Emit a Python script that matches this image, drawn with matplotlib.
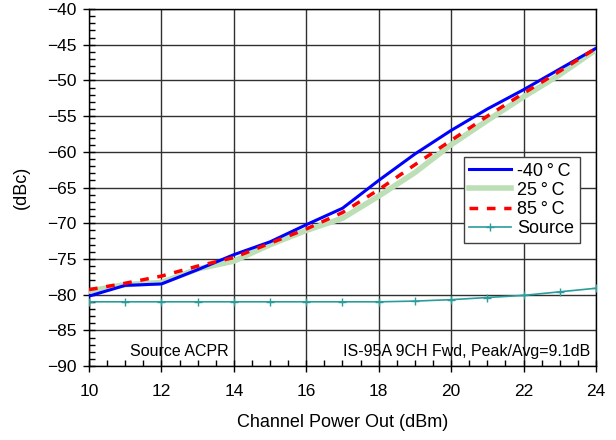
import matplotlib
matplotlib.use('Agg')
from matplotlib import pyplot as plt
from matplotlib.ticker import MultipleLocator

plt.rcParams['font.family'] = ['Liberation Sans', 'DejaVu Sans']

# channel power out (dBm)
pout = [10, 11, 12, 13, 14, 15, 16, 17, 18, 19, 20, 21, 22, 23, 24]

# ACPR (dBc) per temperature
acpr_m40 = [-80.2, -78.7, -78.5, -76.5, -74.4, -72.6, -70.2, -67.9, -64.0, -60.3, -57.0, -54.0, -51.3, -48.4, -45.5]
acpr_25 = [-79.5, -78.6, -78.3, -76.4, -75.3, -73.0, -71.0, -69.3, -66.2, -62.9, -59.0, -55.6, -52.3, -49.2, -45.7]
acpr_85 = [-79.3, -78.4, -77.4, -76.0, -74.8, -72.8, -70.8, -68.5, -65.3, -61.8, -58.4, -55.0, -51.8, -48.7, -45.5]
acpr_src = [-81.0, -81.0, -81.0, -81.0, -81.0, -81.0, -81.0, -81.0, -81.0, -80.9, -80.7, -80.4, -80.1, -79.6, -79.1]

fig = plt.figure(figsize=(6.16, 4.4), dpi=100)
ax = fig.add_axes([0.1445, 0.168, 0.823, 0.8115])

ax.plot(pout, acpr_m40, color='#0000ff', lw=2.2, label='-40\u2009\u00b0\u2009C', zorder=4)
ax.plot(pout, acpr_25, color='#bcdfb6', lw=4, label='25\u2009\u00b0\u2009C', zorder=3)
ax.plot(pout, acpr_85, color='#ff0000', lw=2.5, ls=(0, (2.5, 2.5)), label='85\u2009\u00b0\u2009C', zorder=5)
ax.plot(pout, acpr_src, color='#2a9d9a', lw=1.2, marker='+', ms=6, mew=1, label='Source', zorder=3)

ax.set_xlim(10, 24)
ax.set_ylim(-90, -40)
ax.xaxis.set_major_locator(MultipleLocator(2))
ax.xaxis.set_minor_locator(MultipleLocator(0.5))
ax.yaxis.set_major_locator(MultipleLocator(5))
ax.yaxis.set_minor_locator(MultipleLocator(1))
ax.tick_params(which='major', direction='inout', length=8, width=1, labelsize=12.5)
ax.tick_params(which='minor', direction='in', length=4, width=1)
ax.tick_params(axis='x', pad=9)
ax.tick_params(axis='y', pad=5)

ax.grid(which='major', color='#303030', lw=1)
for s in ax.spines.values():
    s.set_linewidth(1)

ax.set_xlabel('Channel Power Out (dBm)', fontsize=13, labelpad=11)
ax.set_ylabel('(dBc)', fontsize=13, labelpad=12)

ax.text(12.5, -88, 'Source ACPR', ha='center', va='center', fontsize=11.5, zorder=6)
ax.text(23.85, -88, 'IS-95A 9CH Fwd, Peak/Avg=9.1dB', ha='right', va='center', fontsize=11.5, zorder=6)

leg = ax.legend(loc='upper right', bbox_to_anchor=(0.968, 0.585), fontsize=13,
                frameon=True, fancybox=False, edgecolor='#404040', framealpha=1,
                handlelength=2.3, handletextpad=0.35, borderpad=0.3, labelspacing=0.12,
                borderaxespad=0)
leg.get_frame().set_linewidth(1)

plt.savefig('out.png', dpi=100)
plt.close()
